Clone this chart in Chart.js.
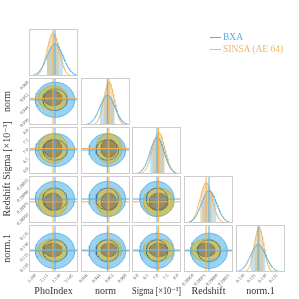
<!DOCTYPE html>
<html>
<head>
<meta charset="utf-8">
<script src="https://cdn.jsdelivr.net/npm/chart.js@4/dist/chart.umd.min.js"></script>
<style>
    html, body { margin: 0; padding: 0; background: #fff; }
    #wrap { position: relative; width: 299px; height: 299px; overflow: hidden; }
    #wrap canvas { position: absolute; left: 0; top: 0; }
    #legend { position: absolute; left: 210px; top: 31px; z-index: 10;
        font-family: 'Liberation Serif', 'DejaVu Serif', serif; font-size: 9.5px; line-height: 12px; }
    .item { display: flex; align-items: center; white-space: nowrap; }
    .sw { display: inline-block; width: 11px; height: 1px; margin-right: 2px; }
</style>
</head>
<body>
<div id="wrap">
    <div id="legend">
        <div class="item" style="color:#5aaee0"><span class="sw" style="background:#5aaee0"></span>BXA</div>
        <div class="item" style="color:#f2b860"><span class="sw" style="background:#f2b860"></span>SINSA (AE 64)</div>
    </div>
</div>
<script>
// Parameters (axis order of the corner plot)
const paramNames = ['PhoIndex', 'norm', 'Sigma [×10⁻³]', 'Redshift', 'norm.1'];
const axisMin = [2.092, 0.9323, 5.70, 0.28931, 0.1164];
const axisMax = [2.152, 0.9625, 8.15, 0.29033, 0.1386];

// Tick labels
const ticksPhoIndex = [2.100, 2.115, 2.130, 2.145];
const ticksNorm = [0.936, 0.944, 0.952, 0.960];
const ticksSigma = [6.0, 6.5, 7.0, 7.5, 8.0];
const ticksRedshift = [0.28950, 0.28975, 0.29000, 0.29025];
const ticksNorm1 = [0.120, 0.125, 0.130, 0.135];
const tickDecimals = [3, 3, 1, 5, 3];

// Posterior summaries (median, width)
const bxaMedian = [2.1238, 0.9485, 6.95, 0.28983, 0.1264];
const bxaSigma = [0.0098, 0.0046, 0.35, 0.000156, 0.0034];
const sinsaMedian = [2.1214, 0.9495, 7.03, 0.28977, 0.1268];
const sinsaSigma = [0.0073, 0.0032, 0.31, 0.000125, 0.0021];

// height of the taller marginal as fraction of each diagonal panel
const diagPeakFrac = [0.92, 0.91, 0.88, 0.86, 0.95];
// 2D credible levels
const contourLevels = [0.68, 0.95];

// Layout of the grid
const colLeft = [29, 81, 132, 184, 236];
const rowTop = [29, 78, 127, 176, 225];
const panelW = 49, panelH = 47;

const allTicks = [ticksPhoIndex, ticksNorm, ticksSigma, ticksRedshift, ticksNorm1];
const serif = "'Liberation Serif', 'DejaVu Serif', serif";
const wrap = document.getElementById('wrap');

const BLUE = '#5aaee0';
const ORANGE = '#f2b860';

const framePlugin = {
    id: 'frame',
    afterDatasetsDraw(chart) {
        const { ctx, chartArea: a } = chart;
        ctx.save();
        ctx.strokeStyle = '#cdcdcd';
        ctx.lineWidth = 1;
        ctx.strokeRect(a.left + 0.5, a.top + 0.5, a.right - a.left - 1, a.bottom - a.top - 1);
        ctx.restore();
    }
};

function gaussPoints(mu, sig, lo, hi, n) {
    const pts = [];
    for (let i = 0; i <= n; i++) {
        const x = lo + (hi - lo) * i / n;
        const z = (x - mu) / sig;
        pts.push({ x, y: Math.exp(-0.5 * z * z) / sig });
    }
    return pts;
}

function ellipse(mx, my, sx, sy, level) {
    const k = Math.sqrt(-2 * Math.log(1 - level));
    const pts = [];
    for (let i = 0; i <= 64; i++) {
        const t = 2 * Math.PI * i / 64;
        pts.push({ x: mx + k * sx * Math.cos(t), y: my + k * sy * Math.sin(t) });
    }
    return pts;
}

function line(x0, y0, x1, y1, color, order) {
    return { data: [{ x: x0, y: y0 }, { x: x1, y: y1 }], showLine: true, pointRadius: 0,
        borderColor: color, borderWidth: 1, fill: false, order };
}

function axisScale(idx, show, pos, sizeKey, size) {
    const s = {
        type: 'linear', min: axisMin[idx], max: axisMax[idx], position: pos,
        display: show,
        grid: { display: false, drawTicks: false, tickLength: 0 }, border: { display: false }
    };
    if (show) {
        s.ticks = { autoSkip: false, minRotation: 45, maxRotation: 45, padding: 1,
            font: { family: serif, size: 4.5 }, color: '#555',
            callback: v => Number(v).toFixed(tickDecimals[idx]) };
        s.title = { display: true, text: paramNames[idx], color: '#333',
            font: { family: serif, size: 10 }, padding: { top: 1, bottom: 2 } };
        s.afterBuildTicks = sc => { sc.ticks = allTicks[idx].map(v => ({ value: v })); };
        s.afterFit = sc => {
            sc[sizeKey] = size;
            sc.paddingLeft = 0; sc.paddingRight = 0; sc.paddingTop = 0; sc.paddingBottom = 0;
        };
    }
    return s;
}

function makePanel(r, c) {
    const canvas = document.createElement('canvas');
    canvas.width = 299; canvas.height = 299;
    wrap.appendChild(canvas);

    const showX = r === 4;
    const showY = c === 0 && r > 0;
    const padding = {
        left: showY ? 0 : colLeft[c],
        top: rowTop[r],
        right: 299 - colLeft[c] - panelW,
        bottom: showX ? 0 : 299 - rowTop[r] - panelH
    };

    const datasets = [];
    let yScale;

    if (r === c) {
        const i = r;
        const peak = Math.max(1 / bxaSigma[i], 1 / sinsaSigma[i]);
        const ymax = peak / diagPeakFrac[i];
        datasets.push(line(bxaMedian[i], 0, bxaMedian[i], ymax, BLUE, 0));
        datasets.push(line(sinsaMedian[i], 0, sinsaMedian[i], ymax, '#f0b050', 0));
        datasets.push({ data: gaussPoints(bxaMedian[i], bxaSigma[i], axisMin[i], axisMax[i], 90),
            showLine: true, pointRadius: 0, borderColor: BLUE, borderWidth: 1, fill: false, order: 1 });
        datasets.push({ data: gaussPoints(sinsaMedian[i], sinsaSigma[i], axisMin[i], axisMax[i], 90),
            showLine: true, pointRadius: 0, borderColor: ORANGE, borderWidth: 1, fill: false, order: 1 });
        datasets.push({ data: gaussPoints(bxaMedian[i], bxaSigma[i], bxaMedian[i] - bxaSigma[i], bxaMedian[i] + bxaSigma[i], 30),
            showLine: true, pointRadius: 0, borderWidth: 0, borderColor: 'rgba(0,0,0,0)',
            backgroundColor: 'rgba(110,185,230,0.42)', fill: 'origin', order: 3 });
        datasets.push({ data: gaussPoints(sinsaMedian[i], sinsaSigma[i], sinsaMedian[i] - sinsaSigma[i], sinsaMedian[i] + sinsaSigma[i], 30),
            showLine: true, pointRadius: 0, borderWidth: 0, borderColor: 'rgba(0,0,0,0)',
            backgroundColor: 'rgba(230,180,100,0.42)', fill: 'origin', order: 2 });
        yScale = { type: 'linear', min: 0, max: ymax, display: false };
    } else {
        // x = parameter c, y = parameter r
        const [lo, hi] = contourLevels;
        datasets.push(line(bxaMedian[c], axisMin[r], bxaMedian[c], axisMax[r], BLUE, 0));
        datasets.push(line(axisMin[c], bxaMedian[r], axisMax[c], bxaMedian[r], BLUE, 0));
        datasets.push(line(sinsaMedian[c], axisMin[r], sinsaMedian[c], axisMax[r], '#f0b050', 0));
        datasets.push(line(axisMin[c], sinsaMedian[r], axisMax[c], sinsaMedian[r], '#f0b050', 0));
        datasets.push({ data: ellipse(bxaMedian[c], bxaMedian[r], bxaSigma[c], bxaSigma[r], lo),
            showLine: true, pointRadius: 0, borderColor: 'rgba(55,110,150,0.75)', borderWidth: 1, fill: false, order: 1 });
        datasets.push({ data: ellipse(sinsaMedian[c], sinsaMedian[r], sinsaSigma[c], sinsaSigma[r], lo),
            showLine: true, pointRadius: 0, borderColor: '#857650', borderWidth: 0.8,
            backgroundColor: '#9c8b5d', fill: 'shape', order: 2 });
        datasets.push({ data: ellipse(sinsaMedian[c], sinsaMedian[r], sinsaSigma[c], sinsaSigma[r], hi),
            showLine: true, pointRadius: 0, borderColor: '#b3ad5c', borderWidth: 0.8,
            backgroundColor: '#c9c46c', fill: 'shape', order: 3 });
        datasets.push({ data: ellipse(bxaMedian[c], bxaMedian[r], bxaSigma[c], bxaSigma[r], hi),
            showLine: true, pointRadius: 0, borderColor: '#4ea8e0', borderWidth: 0.8,
            backgroundColor: '#9ad3f2', fill: 'shape', order: 4 });
        yScale = axisScale(r, showY, 'left', 'width', 29);
    }

    new Chart(canvas, {
        type: 'scatter',
        data: { datasets },
        options: {
            responsive: false,
            animation: false,
            devicePixelRatio: 1,
            layout: { padding },
            plugins: { legend: { display: false }, tooltip: { enabled: false } },
            elements: { line: { tension: 0 } },
            scales: {
                x: axisScale(c, showX, 'bottom', 'height', 27),
                y: yScale
            }
        },
        plugins: [framePlugin]
    });
}

for (let r = 0; r < 5; r++) {
    for (let c = 0; c <= r; c++) makePanel(r, c);
}
</script>
</body>
</html>
